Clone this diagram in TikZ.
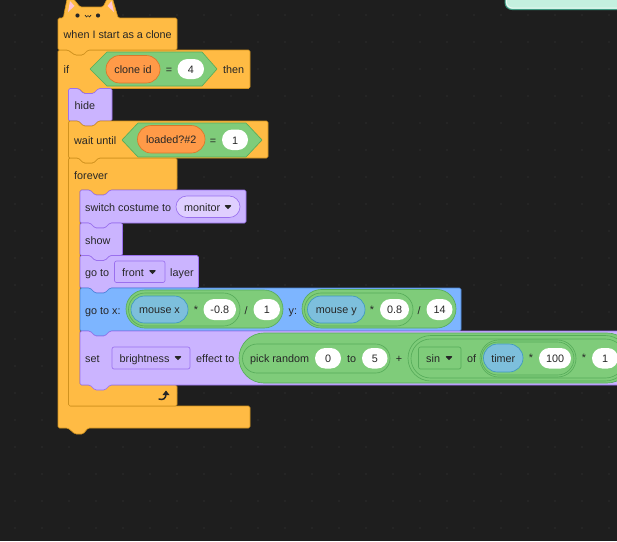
\documentclass[tikz,border=0pt]{standalone}
\usepackage{fontspec}
\setmainfont{Liberation Sans}
\definecolor{canvas}{HTML}{1E1E1E}
\definecolor{griddot}{HTML}{2E2E2E}
\definecolor{ctrl}{HTML}{FFBB44}
\definecolor{ctrlline}{HTML}{D0921F}
\definecolor{looks}{HTML}{CBB4FF}
\definecolor{looksline}{HTML}{9A70EE}
\definecolor{looksdrop}{HTML}{DFCFFF}
\definecolor{motion}{HTML}{7DB5FF}
\definecolor{motionline}{HTML}{4C86DA}
\definecolor{oper}{HTML}{7FCC7A}
\definecolor{operline}{HTML}{57AC5A}
\definecolor{vars}{HTML}{FF9A48}
\definecolor{varsline}{HTML}{D9772A}
\definecolor{sense}{HTML}{7DBFDC}
\definecolor{senseline}{HTML}{3F98C0}
\definecolor{ink}{HTML}{262626}
\definecolor{mint}{HTML}{C4F0DF}
\definecolor{mintline}{HTML}{3F9A82}
\definecolor{earpink}{HTML}{FFC4D6}
\tikzset{
  blockctrl/.style={fill=ctrl,draw=ctrlline,line width=.65pt,rounded corners=1.5pt,line join=round},
  blocklooks/.style={fill=looks,draw=looksline,line width=.65pt,rounded corners=1.5pt,line join=round},
  blockmotion/.style={fill=motion,draw=motionline,line width=.65pt,rounded corners=1.5pt,line join=round},
  ovaloper/.style={fill=oper,draw=operline,line width=.65pt},
  ovalvars/.style={fill=vars,draw=varsline,line width=.65pt},
  ovalsense/.style={fill=sense,draw=senseline,line width=.65pt},
  ovalvalue/.style={fill=white,draw=none},
  ovaldrop/.style={fill=looksdrop,draw=looksline,line width=.65pt},
  hexcond/.style={fill=oper,draw=operline,line width=.65pt,line join=round},
  menubox/.style={draw=looksline,line width=.65pt,rounded corners=2pt},
  lab/.style={font=\fontsize{10.8}{12}\selectfont,text=ink,inner sep=0pt,
    text height=10.8pt,text depth=2pt},
  tri/.style={fill=ink,draw=ink,line width=1pt,line join=round},
}
% stack block with a notch on top and a tab underneath
\newcommand\stackblock[5]{%
  \path[#1] (#2,#3) -- ({#2+10},#3) -- ({#2+15},{#3+5}) -- ({#2+25},{#3+5}) -- ({#2+30},#3)
    -- (#4,#3) -- (#4,#5) -- ({#2+30},#5) -- ({#2+25},{#5+5}) -- ({#2+15},{#5+5})
    -- ({#2+10},#5) -- (#2,#5) -- cycle;}
% capsule with an optional centred text: style, x1, y1, x2, y2, node name, text
\newcommand\capsule[7]{%
  \pgfmathsetmacro\capr{(#5-#3)/2}%
  \path[#1,rounded corners=\capr pt] (#2,#3) rectangle (#4,#5);
  \node[lab] (#6) at ({(#2+#4)/2},{(#3+#5)/2}) {#7};}
% left-aligned text
\newcommand\word[4]{\node[lab,anchor=west] (#1) at (#2,#3) {#4};}
% centred text
\newcommand\sign[4]{\node[lab] (#1) at (#2,#3) {#4};}
% dropdown triangle centred on a point
\newcommand\droptri[2]{\path[tri] ({#1-2.6},{#2-1.3}) -- ({#1+2.6},{#2-1.3}) -- (#1,{#2+1.5}) -- cycle;}
\begin{document}
\begin{tikzpicture}[x=1pt,y=-1pt]
\useasboundingbox (0,0) rectangle (617,541);
\clip (0,0) rectangle (617,541);
\fill[canvas] (0,0) rectangle (617,541);
% workspace dot grid
\foreach \gx in {15,42,...,610}
  \foreach \gy in {15,42,...,540}
    \fill[griddot] (\gx,\gy) circle (.9pt);
% comment box at the top edge
\path[fill=mint,draw=mintline,line width=1pt,rounded corners=7pt] (505,-20) rectangle (660,9.5);
\draw[white,opacity=.7,line width=.8pt,rounded corners=6pt] (506.5,-20) -- (506.5,8) -- (660,8);

% if ... then, with its wrapping arm
\path[blockctrl] (58,50) -- (68,50) -- (75,55) -- (83,55) -- (88,50) -- (250,50) -- (250,88.5)
  -- (99,88.5) -- (94,93.5) -- (84,93.5) -- (79,88.5) -- (69,88.5) -- (69,406) -- (250,406)
  -- (250,428) -- (88,428) -- (83,434) -- (75,434) -- (68,428) -- (58,428) -- cycle;

% hat block with the cat head on top
\path[blockctrl] (58,50) -- (58,18) -- (63.5,18) -- (64,14) -- (67.5,-3) -- (72,-3) -- (80,7)
  -- (103,7) -- (108,-3) -- (112,-3) -- (117,14) -- (118,18) -- (177,18) -- (177,50)
  -- (88,50) -- (83,55) -- (75,55) -- (68,50) -- cycle;
\fill[earpink] (68,12) -- (70,1) -- (74.5,6) -- cycle;
\fill[earpink] (114,12) -- (111.5,1) -- (107.5,6) -- cycle;
\fill[ink] (77.5,15.5) circle (2.1pt);
\fill[ink] (98,15.5) circle (2.1pt);
\draw[ink,line width=.7pt,line join=round] (85,15) -- (86.5,17) -- (88,15.5) -- (89.5,17) -- (91,15);
\word{hatText}{63.5}{34}{when I start as a clone}

\word{ifText}{63.5}{69}{if}
\path[hexcond] (90,69) -- (107,52) -- (202,52) -- (217,69) -- (202,86) -- (107,86) -- cycle;
\capsule{ovalvars}{106}{55.5}{160}{83}{cloneId}{clone id}
\sign{eqOne}{169}{69}{=}
\capsule{ovalvalue}{177.5}{59}{204}{79}{valFour}{4}
\word{thenText}{223}{69}{then}

% hide
\stackblock{blocklooks}{68.5}{88.5}{112}{121}
\word{hideText}{74.5}{105}{hide}

% forever loop
\path[blockctrl] (68.5,158) -- (78.5,158) -- (83.5,163) -- (93.5,163) -- (98.5,158) -- (177,158)
  -- (177,190) -- (110,190) -- (105,195) -- (95,195) -- (90,190) -- (80,190) -- (80,385)
  -- (177,385) -- (177,406) -- (68.5,406) -- cycle;
\word{foreverText}{74}{175}{forever}
\path[draw=ink,line width=1.5pt,line cap=round] (159,399) .. controls (163,400.5) and (166,398.5) .. (166,394);
\path[fill=ink] (162.5,395) -- (166,390.5) -- (169.5,395) -- cycle;

% wait until
\stackblock{blockctrl}{68.5}{121}{268}{158}
\word{waitText}{74}{140}{wait until}
\path[hexcond] (122,140) -- (138,123) -- (246,123) -- (262,140) -- (246,157) -- (138,157) -- cycle;
\capsule{ovalvars}{137.5}{125.5}{205}{153}{loadedVar}{loaded?\#2}
\sign{eqTwo}{213}{140}{=}
\capsule{ovalvalue}{222}{129.5}{248}{150}{valOneA}{1}

% switch costume to
\stackblock{blocklooks}{80}{190}{246}{223}
\word{switchText}{85}{207}{switch costume to}
\capsule{ovaldrop}{176}{196}{240}{217.5}{monitorHolder}{}
\word{monitorText}{184}{207}{monitor}
\droptri{228}{207}

% show
\stackblock{blocklooks}{80}{223}{122.5}{255.5}
\word{showText}{85}{240}{show}

% go to front layer
\stackblock{blocklooks}{80}{255.5}{198.5}{288}
\word{gotoText}{85}{272}{go to}
\path[menubox,fill=looks] (114.5,261) rectangle (165,282.5);
\word{frontText}{122}{272}{front}
\droptri{152.5}{272}
\word{layerText}{170}{272}{layer}

% go to x y
\stackblock{blockmotion}{80}{288}{461}{331}
\word{gotoxText}{85}{310}{go to x:}
\capsule{ovaloper}{126}{290}{283}{328}{xOuter}{}
\capsule{ovaloper}{128.5}{293}{240}{326}{xInner}{}
\capsule{ovalsense}{131}{296}{188}{323}{mouseX}{mouse x}
\sign{xTimes}{196}{309}{*}
\capsule{ovalvalue}{203.5}{299}{236}{320}{valXa}{-0.8}
\sign{xDiv}{246}{310}{/}
\capsule{ovalvalue}{253.5}{299}{280}{320}{valXb}{1}
\word{yText}{288.5}{310}{y:}
\capsule{ovaloper}{302}{289.5}{456}{328}{yOuter}{}
\capsule{ovaloper}{304.5}{293}{413}{326}{yInner}{}
\capsule{ovalsense}{307.5}{296}{365}{323}{mouseY}{mouse y}
\sign{yTimes}{372}{309}{*}
\capsule{ovalvalue}{380}{299}{409}{320}{valYa}{0.8}
\sign{yDiv}{419}{310}{/}
\capsule{ovalvalue}{426.5}{299}{452.5}{320}{valYb}{14}

% set brightness effect
\stackblock{blocklooks}{80}{331}{720}{385}
\word{setText}{85}{358}{set}
\path[menubox,fill=looks] (112,347) rectangle (190,369);
\word{brightText}{119.5}{358}{brightness}
\droptri{178}{358}
\word{effectText}{196}{358}{effect to}
\capsule{ovaloper}{239}{333}{632}{383}{sumOuter}{}
\capsule{ovaloper}{242.5}{344}{390}{373}{randomPill}{}
\word{pickText}{250}{358}{pick random}
\capsule{ovalvalue}{315}{348}{341}{368.5}{valLow}{0}
\word{toText}{347}{358}{to}
\capsule{ovalvalue}{362}{348}{387.5}{368.5}{valHigh}{5}
\sign{plusSign}{399}{358}{+}
\capsule{ovaloper}{408}{335.5}{628}{381}{prodOuter}{}
\capsule{ovaloper}{411}{339}{625}{378}{prodInner}{}
\path[menubox,fill=oper,draw=operline] (418.5,347) rectangle (461,369);
\word{sinText}{426}{358}{sin}
\droptri{449}{358}
\word{ofText}{467}{358}{of}
\capsule{ovaloper}{480}{340}{576}{377}{timerOuter}{}
\capsule{ovaloper}{481.5}{342}{574}{375}{timerInner}{}
\capsule{ovalsense}{483.5}{344}{523}{372}{timerOval}{timer}
\sign{timerTimes}{531}{357}{*}
\capsule{ovalvalue}{539}{348}{571}{368.5}{valHundred}{100}
\sign{lastTimes}{584}{357}{*}
\capsule{ovalvalue}{592}{348}{618}{368.5}{valOneB}{1}
\end{tikzpicture}
\end{document}
